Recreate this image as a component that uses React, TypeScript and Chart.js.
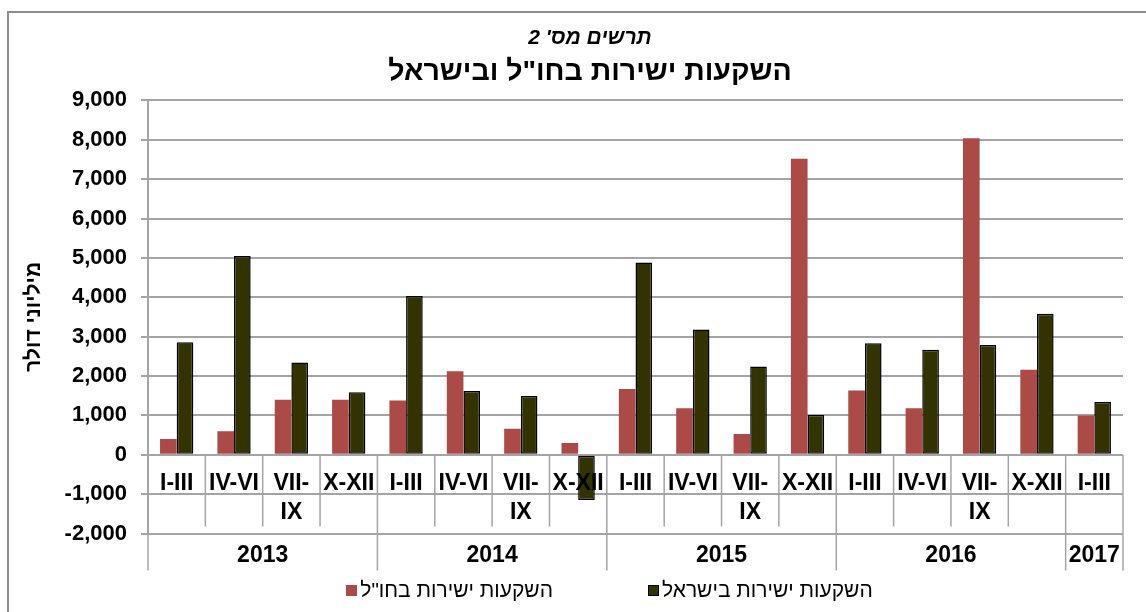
import React, { useEffect, useRef } from 'react';
import { Chart, registerables } from 'chart.js';

Chart.register(...registerables);

// ---- data ----
const quarterLabels: (string | string[])[] = [
  'I-III', 'IV-VI', ['VII-', 'IX'], 'X-XII',
  'I-III', 'IV-VI', ['VII-', 'IX'], 'X-XII',
  'I-III', 'IV-VI', ['VII-', 'IX'], 'X-XII',
  'I-III', 'IV-VI', ['VII-', 'IX'], 'X-XII',
  'I-III',
];
const yearLabels = ['2013', '2014', '2015', '2016', '2017'];
const yearSpans = [4, 4, 4, 4, 1];
const abroadValues = [400, 600, 1400, 1400, 1380, 2120, 660, 300, 1670, 1180, 530, 7520, 1630, 1180, 8040, 2160, 1000];
const israelValues = [2860, 5050, 2340, 1590, 4030, 1620, 1490, -1150, 4880, 3180, 2240, 1010, 2830, 2670, 2790, 3580, 1340];
const seriesNames = ['השקעות ישירות בחו"ל', 'השקעות ישירות בישראל'];
const seriesColors = ['#AB4A47', '#333300'];
const yMin = -2000;
const yMax = 9000;
const yStep = 1000;
const titleText = "תרשים מס' 2";
const subtitleText = 'השקעות ישירות בחו"ל ובישראל';
const yAxisTitle = 'מיליוני דולר';

const FONT = '"Liberation Sans", Arial, sans-serif';
const GRID = '#a4a4a4';

const tablePlugin = {
  id: 'categoryTable',
  afterDatasetsDraw(chart: any) {
    const { ctx, chartArea } = chart;
    const xs = chart.scales.x;
    const ys = chart.scales.y;
    const n = quarterLabels.length;
    const y0 = ys.getPixelForValue(0);
    const rowBottom = ys.getPixelForValue(yMin) - 7;
    const tableBottom = xs.bottom;
    const yearStarts = new Set<number>([0]);
    let acc = 0;
    yearSpans.forEach((s) => { acc += s; yearStarts.add(acc); });

    ctx.save();
    ctx.strokeStyle = GRID;
    ctx.lineWidth = 1.5;
    for (let i = 0; i <= n; i++) {
      const x = xs.getPixelForValue(i - 0.5);
      const bottom = yearStarts.has(i) ? tableBottom : rowBottom;
      ctx.beginPath();
      ctx.moveTo(x, y0);
      ctx.lineTo(x, bottom);
      ctx.stroke();
    }

    ctx.fillStyle = '#000';
    ctx.font = `bold 23px ${FONT}`;
    ctx.textAlign = 'center';
    ctx.textBaseline = 'middle';
    quarterLabels.forEach((lab, i) => {
      const lines = Array.isArray(lab) ? lab : [lab];
      const x = xs.getPixelForValue(i);
      lines.forEach((t, k) => ctx.fillText(t, x, y0 + 29 + k * 29));
    });
    let start = 0;
    yearLabels.forEach((yl, j) => {
      const s = yearSpans[j];
      const x = (xs.getPixelForValue(start - 0.5) + xs.getPixelForValue(start + s - 0.5)) / 2;
      ctx.fillText(yl, x, chartArea.bottom + 22);
      start += s;
    });
    ctx.restore();
  },
};

export default function App() {
  const ref = useRef<HTMLCanvasElement>(null);

  useEffect(() => {
    Chart.defaults.font.family = FONT;
    Chart.defaults.color = '#000';
    const chart = new Chart(ref.current as HTMLCanvasElement, {
      type: 'bar',
      data: {
        labels: quarterLabels,
        datasets: [
          {
            label: seriesNames[0],
            data: abroadValues,
            backgroundColor: seriesColors[0],
            borderWidth: 0,
            categoryPercentage: 0.58,
            barPercentage: 1,
          },
          {
            label: seriesNames[1],
            data: israelValues,
            backgroundColor: seriesColors[1],
            borderColor: '#000',
            borderWidth: 1.5,
            borderSkipped: false,
            categoryPercentage: 0.58,
            barPercentage: 1,
          },
        ],
      },
      plugins: [tablePlugin],
      options: {
        animation: false,
        responsive: true,
        maintainAspectRatio: false,
        layout: { padding: { left: 0, right: 0, top: 0, bottom: 41.5 } },
        plugins: {
          legend: { display: false },
          tooltip: { enabled: false },
          title: {
            display: true,
            text: titleText,
            color: '#000',
            font: { size: 21, weight: 'bold', style: 'italic', family: FONT },
            padding: { top: 26, bottom: 4 },
          },
          subtitle: {
            display: true,
            text: subtitleText,
            color: '#000',
            font: { size: 28.5, weight: 'bold', family: FONT },
            padding: { top: 0, bottom: 11 },
          },
        },
        scales: {
          x: {
            type: 'category',
            grid: { display: false },
            border: { display: false },
            ticks: { display: false },
            afterFit: (s: any) => { s.height = 37; },
          },
          y: {
            type: 'linear',
            position: 'left',
            min: yMin,
            max: yMax,
            ticks: {
              stepSize: yStep,
              padding: 14,
              color: '#000',
              font: { size: 22, weight: 'bold', family: FONT },
              callback: (v: any) => Number(v).toLocaleString('en-US'),
            },
            grid: { color: GRID, lineWidth: 2, drawTicks: true, tickLength: 7 },
            border: { display: true, color: GRID, width: 2 },
            title: {
              display: true,
              text: yAxisTitle,
              color: '#000',
              font: { size: 21, weight: 'bold', family: FONT },
              padding: { top: 22, bottom: 0 },
            },
            afterFit: (s: any) => { s.width = 148; },
          },
          yRight: {
            type: 'linear',
            position: 'right',
            display: true,
            grid: { display: false },
            border: { display: false },
            ticks: { display: false },
            afterFit: (s: any) => { s.width = 57; },
          },
        },
      } as any,
    });
    return () => chart.destroy();
  }, []);

  const legendItem = (i: number) => (
    <div key={i} style={{ display: 'flex', alignItems: 'center' }}>
      <span
        style={{
          display: 'inline-block',
          width: 11,
          height: 11,
          background: seriesColors[i],
          border: i === 1 ? '1px solid #000' : 'none',
          boxSizing: 'border-box',
          marginRight: 3,
        }}
      />
      <span style={{ font: `21px ${FONT}`, color: '#000', lineHeight: '22px', whiteSpace: 'nowrap' }}>
        {seriesNames[i]}
      </span>
    </div>
  );

  return (
    <div style={{ position: 'fixed', left: 0, top: 0, width: 1146, height: 612, overflow: 'hidden', background: '#fff' }}>
      <div
        style={{
          position: 'absolute',
          left: 7,
          top: 11,
          width: 1220,
          height: 700,
          border: '2px solid #8c8c8c',
          boxSizing: 'border-box',
        }}
      />
      <div style={{ position: 'absolute', left: 0, top: 0, width: 1180, height: 612 }}>
        <canvas ref={ref} />
      </div>
      <div
        style={{
          position: 'absolute',
          left: 0,
          top: 579,
          width: 1219,
          height: 22,
          display: 'flex',
          justifyContent: 'center',
          alignItems: 'center',
          gap: 95,
        }}
      >
        {legendItem(0)}
        {legendItem(1)}
      </div>
    </div>
  );
}
